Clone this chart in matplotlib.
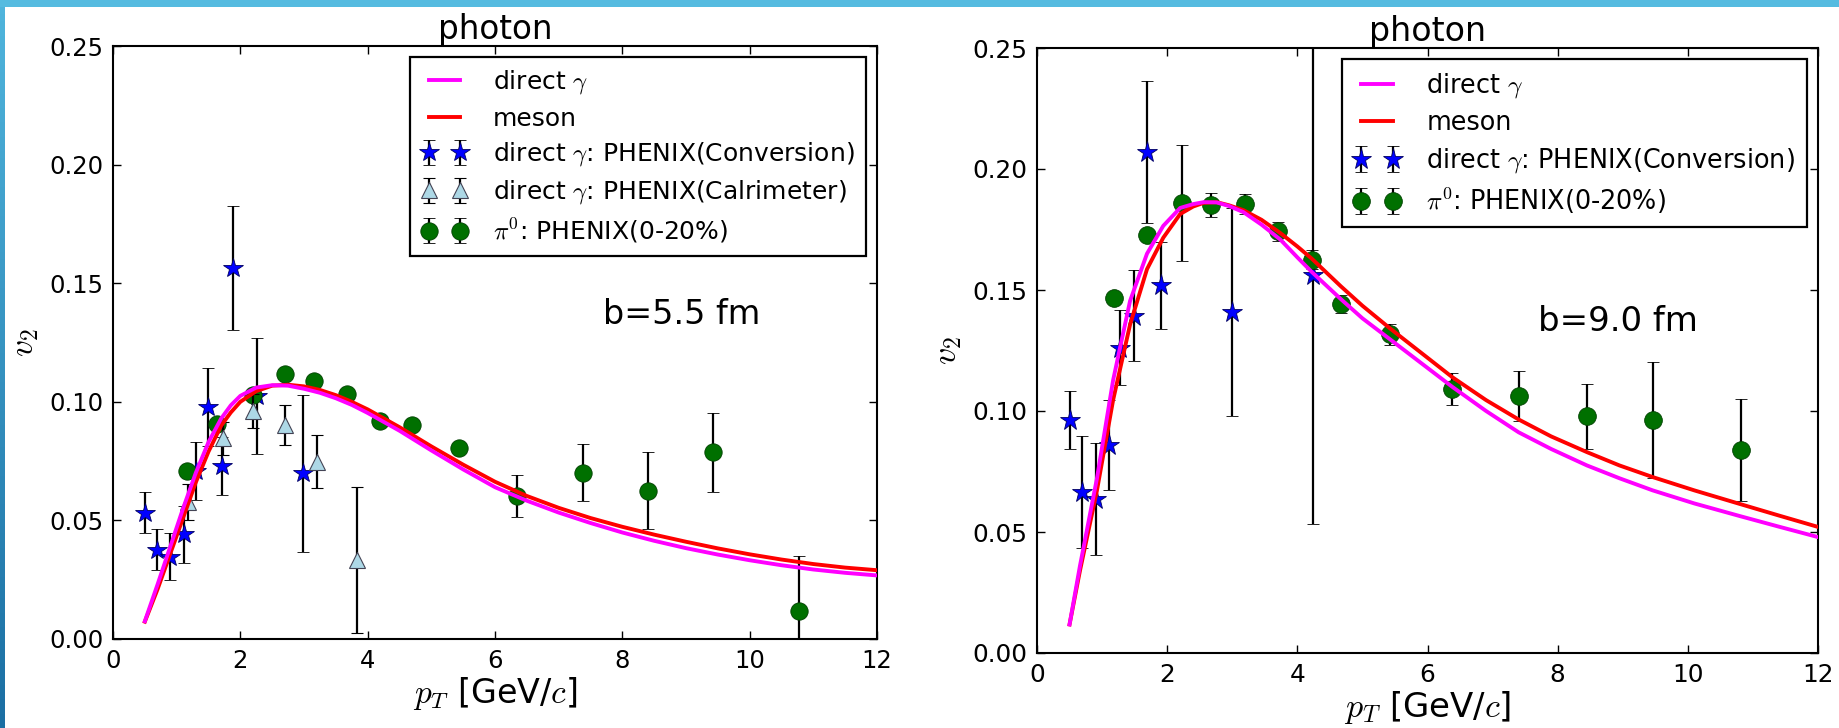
import numpy as np
import matplotlib
matplotlib.use("Agg")
import matplotlib.pyplot as plt
from matplotlib.patches import Rectangle
from matplotlib.colors import LinearSegmentedColormap

plt.rcParams['font.family'] = ['DejaVu Sans']
plt.rcParams['mathtext.fontset'] = 'cm'
plt.rcParams['xtick.direction'] = 'in'
plt.rcParams['ytick.direction'] = 'in'
plt.rcParams['xtick.top'] = True
plt.rcParams['ytick.right'] = True
plt.rcParams['legend.numpoints'] = 2

# ---------------- data: b = 5.5 fm ----------------
L_curve_x = [0.5, 0.7, 0.9, 1.1, 1.3, 1.5, 1.7, 1.85, 2.0, 2.25, 2.5, 2.75, 3.0, 3.25, 3.5, 3.75,
             4.0, 4.5, 5.0, 5.5, 6.0, 6.5, 7.0, 7.5, 8.0, 8.5, 9.0, 9.5, 10.0, 10.5, 11.0, 11.5, 12.0]
L_meson = [0.0073, 0.021, 0.036, 0.051, 0.066, 0.079, 0.090, 0.0955, 0.100, 0.1045, 0.1068, 0.1072,
           0.1065, 0.105, 0.1028, 0.1000, 0.0968, 0.0893, 0.0812, 0.0735, 0.0663, 0.0603, 0.0553,
           0.0510, 0.0473, 0.0440, 0.0410, 0.0382, 0.0357, 0.0335, 0.0316, 0.0301, 0.0290]
L_direct = [0.0075, 0.023, 0.039, 0.055, 0.070, 0.083, 0.093, 0.0985, 0.1025, 0.106, 0.107, 0.1068,
            0.1055, 0.1038, 0.1015, 0.0987, 0.0953, 0.0878, 0.0795, 0.0715, 0.0640, 0.0583, 0.0533,
            0.0489, 0.0449, 0.0414, 0.0383, 0.0356, 0.0332, 0.0311, 0.0293, 0.0279, 0.0268]

L_conv_x = [0.50, 0.69, 0.89, 1.12, 1.30, 1.49, 1.71, 1.89, 2.26, 2.99]
L_conv_y = [0.0533, 0.0376, 0.0347, 0.0441, 0.0707, 0.0979, 0.0728, 0.1564, 0.1025, 0.0699]
L_conv_e = [0.0087, 0.0086, 0.0098, 0.012, 0.0122, 0.0165, 0.0122, 0.0262, 0.0245, 0.0331]

L_cal_x = [1.18, 1.72, 2.20, 2.70, 3.20, 3.84]
L_cal_y = [0.0578, 0.0846, 0.0960, 0.0902, 0.0748, 0.0333]
L_cal_e = [0.0075, 0.0070, 0.0072, 0.0085, 0.0112, 0.0306]

L_pi0_x = [1.16, 1.64, 2.20, 2.70, 3.16, 3.68, 4.19, 4.69, 5.44, 6.35, 7.38, 8.41, 9.43, 10.77]
L_pi0_y = [0.0710, 0.0906, 0.1029, 0.1117, 0.1089, 0.1033, 0.0920, 0.0902, 0.0804, 0.0603,
           0.0701, 0.0626, 0.0787, 0.0119]
L_pi0_e = [0.002, 0.002, 0.002, 0.002, 0.002, 0.002, 0.002, 0.002, 0.002, 0.0087,
           0.0120, 0.0162, 0.0166, 0.0233]

# ---------------- data: b = 9.0 fm ----------------
R_curve_x = [0.5, 0.66, 0.92, 1.17, 1.43, 1.69, 1.94, 2.2, 2.4, 2.56, 2.76, 2.95, 3.17, 3.45,
             3.74, 4.0, 4.22, 4.67, 5.0, 5.43, 6.0, 6.38, 6.9, 7.4, 7.9, 8.45, 8.95, 9.46, 10.1,
             10.81, 11.4, 12.0]
R_meson = [0.0118, 0.034, 0.067, 0.1046, 0.1357, 0.1586, 0.1716, 0.1814, 0.1845, 0.1860, 0.1863,
           0.1850, 0.1830, 0.1790, 0.1735, 0.1680, 0.1630, 0.1515, 0.1435, 0.1340, 0.1220,
           0.1140, 0.1045, 0.0965, 0.0895, 0.0830, 0.0775, 0.0727, 0.0672, 0.0615, 0.0568, 0.0521]
R_direct = [0.0118, 0.036, 0.072, 0.1128, 0.1455, 0.165, 0.1765, 0.1839, 0.1855, 0.1863, 0.1862,
            0.1847, 0.1822, 0.1770, 0.1708, 0.1635, 0.1575, 0.1462, 0.1383, 0.1295, 0.1178,
            0.1100, 0.1000, 0.0912, 0.0843, 0.0775, 0.0722, 0.0672, 0.0618, 0.0565, 0.0522, 0.0479]

R_conv_x = [0.50, 0.69, 0.90, 1.10, 1.28, 1.49, 1.69, 1.91, 2.99, 4.24]
R_conv_y = [0.0962, 0.0665, 0.0635, 0.0860, 0.1262, 0.1394, 0.2070, 0.1520, 0.1409, 0.1560]
R_conv_e = [0.0120, 0.0233, 0.0232, 0.0187, 0.0156, 0.0189, 0.0295, 0.0180, 0.0430, 0.1029]

R_pi0_x = [1.19, 1.69, 2.23, 2.68, 3.20, 3.70, 4.22, 4.67, 5.43, 6.38, 7.40, 8.45, 9.46, 10.81]
R_pi0_y = [0.1468, 0.1727, 0.1860, 0.1850, 0.1855, 0.1742, 0.1625, 0.1442, 0.1317, 0.1091,
           0.1062, 0.0978, 0.0962, 0.0838]
R_pi0_e = [0.002, 0.002, 0.0240, 0.0050, 0.0043, 0.0040, 0.0040, 0.0037, 0.0043, 0.0067,
           0.0104, 0.0134, 0.0240, 0.0211]

x_ticks = [0, 2, 4, 6, 8, 10, 12]
y_ticks = [0.00, 0.05, 0.10, 0.15, 0.20, 0.25]
y_ticklabels = ['0.00', '0.05', '0.10', '0.15', '0.20', '0.25']

W, H = 1839, 728
fig = plt.figure(figsize=(W / 100, H / 100), dpi=100, facecolor='white')

# slide decoration (top bar and left gradient bar)
fig.patches.append(Rectangle((0, 1 - 7 / H), 1, 7 / H, transform=fig.transFigure,
                             facecolor='#55bbe0', edgecolor='none', zorder=0))
bar = fig.add_axes([0, 0, 5 / W, 1 - 7 / H])
bar.imshow(np.linspace(0, 1, 100).reshape(-1, 1), aspect='auto',
           cmap=LinearSegmentedColormap.from_list('b', ['#4fb4dc', '#1b6fa3']))
bar.set_axis_off()


def panel(rect, s, cx, meson, direct, conv, cal, pi0, btext):
    ax = fig.add_axes(rect)
    h_conv = ax.errorbar(conv[0], conv[1], yerr=conv[2], fmt='*', color='b', ms=15 * s,
                         mec='#000060', mew=0.6, ecolor='k', elinewidth=1.6, capsize=4 * s,
                         capthick=1.6, zorder=2)
    h_cal = None
    if cal is not None:
        h_cal = ax.errorbar(cal[0], cal[1], yerr=cal[2], fmt='^', color='lightblue', ms=12 * s,
                            mec='#445', mew=0.8, ecolor='k', elinewidth=1.6, capsize=4 * s,
                            capthick=1.6, zorder=4)
    h_pi0 = ax.errorbar(pi0[0], pi0[1], yerr=pi0[2], fmt='o', color='#007000', ms=12.5 * s,
                        mec='#004000', mew=0.6, ecolor='k', elinewidth=1.6, capsize=4 * s,
                        capthick=1.6, zorder=3)
    l_dir, = ax.plot(cx, direct, color='#ff00ff', lw=2.8, zorder=6, solid_joinstyle='round')
    l_mes, = ax.plot(cx, meson, color='#ff0000', lw=2.8, zorder=5, solid_joinstyle='round')

    ax.set_xlim(0, 12)
    ax.set_ylim(0, 0.25)
    ax.set_xticks(x_ticks)
    ax.set_yticks(y_ticks)
    ax.set_yticklabels(y_ticklabels)
    ax.tick_params(labelsize=17.5 * s, length=6, width=1.0, pad=7)
    for sp in ax.spines.values():
        sp.set_linewidth(1.5)
    ax.set_title('photon', fontsize=23.5 * s, pad=5)
    ax.set_xlabel(r'$p_T$ [GeV/$c$]', fontsize=24 * s, labelpad=2)
    ax.set_ylabel(r'$v_2$', fontsize=24 * s, labelpad=6)
    ax.text(7.7, 0.133, btext, fontsize=24 * s)

    handles = [l_dir, l_mes, h_conv]
    labels = [r'direct $\gamma$', 'meson', r'direct $\gamma$: PHENIX(Conversion)']
    if h_cal is not None:
        handles.append(h_cal)
        labels.append(r'direct $\gamma$: PHENIX(Calrimeter)')
    handles.append(h_pi0)
    labels.append(r'$\pi^0$: PHENIX(0-20%)')
    leg = ax.legend(handles, labels, loc='upper right', fontsize=18 * s, fancybox=False,
                    framealpha=1, edgecolor='k', handlelength=1.85, handletextpad=1.0,
                    borderpad=0.45, labelspacing=0.4, borderaxespad=0.45)
    leg.get_frame().set_linewidth(1.6)
    leg.set_zorder(10)
    return ax


panel([113 / W, 1 - 639 / H, 764 / W, 593 / H], 1.0, L_curve_x, L_meson, L_direct,
      (L_conv_x, L_conv_y, L_conv_e), (L_cal_x, L_cal_y, L_cal_e),
      (L_pi0_x, L_pi0_y, L_pi0_e), 'b=5.5 fm')
panel([1037 / W, 1 - 653 / H, 781 / W, 605 / H], 1.02, R_curve_x, R_meson, R_direct,
      (R_conv_x, R_conv_y, R_conv_e), None,
      (R_pi0_x, R_pi0_y, R_pi0_e), 'b=9.0 fm')

fig.savefig('out.png', dpi=100, facecolor='white')
